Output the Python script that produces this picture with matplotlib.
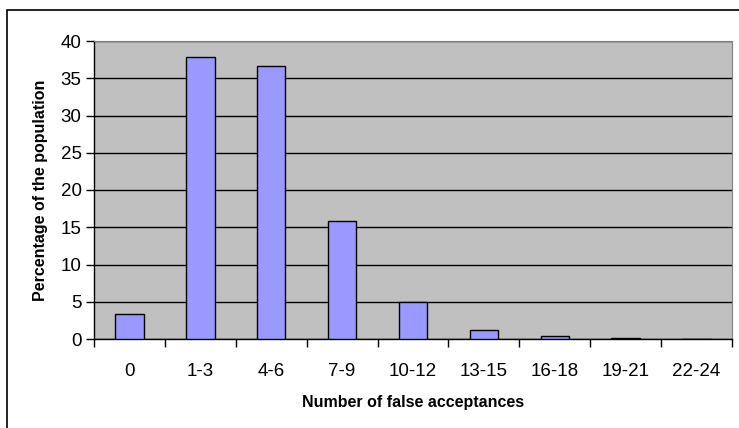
import numpy as np
import matplotlib.pyplot as plt
from matplotlib.patches import Rectangle

categories = ["0", "1-3", "4-6", "7-9", "10-12", "13-15", "16-18", "19-21", "22-24"]
percentages = [3.4, 37.8, 36.7, 15.8, 4.9, 1.2, 0.4, 0.17, 0.0]

plt.rcParams['font.family'] = ['Liberation Sans', 'DejaVu Sans']

fig = plt.figure(figsize=(7.39, 4.28), dpi=100)
ax = fig.add_axes([94 / 739, 1 - 339 / 428, (732 - 94) / 739, (339 - 41) / 428])

# outer chart border (only top and left visible in the reference)
fig.patches.append(Rectangle((7 / 739, -0.1), 1.2, 1 - 10 / 428 + 0.1,
                             transform=fig.transFigure, fill=False,
                             edgecolor="black", linewidth=1.2))

x = np.arange(len(categories))
ax.set_facecolor("#c0c0c0")
ax.bar(x, percentages, width=0.4, color="#9999ff", edgecolor="black",
       linewidth=1.0, zorder=3)

ax.set_xlim(-0.5, len(categories) - 0.5)
ax.set_ylim(0, 40)
ax.set_yticks(np.arange(0, 41, 5))
ax.yaxis.grid(True, color="black", linewidth=1.0, zorder=1)
ax.set_axisbelow(True)

ax.set_xticks(x)
ax.set_xticklabels(categories, fontsize=13.5)
ax.set_xticks(np.arange(-0.5, len(categories)), minor=True)
ax.tick_params(axis="x", which="major", length=0, pad=17)
ax.tick_params(axis="x", which="minor", length=6, width=1.0, direction="out")
ax.tick_params(axis="y", length=6, width=1.0, labelsize=13.5, pad=3)

for side in ["top", "right"]:
    ax.spines[side].set_color("#808080")
ax.spines["left"].set_linewidth(1.0)
ax.spines["bottom"].set_linewidth(1.0)

ax.set_xlabel("Number of false acceptances", fontsize=11.5, fontweight="bold", labelpad=11)
ax.set_ylabel("Percentage of the population", fontsize=11.5, fontweight="bold", labelpad=9)

plt.savefig("out.png", dpi=100)
plt.close()
